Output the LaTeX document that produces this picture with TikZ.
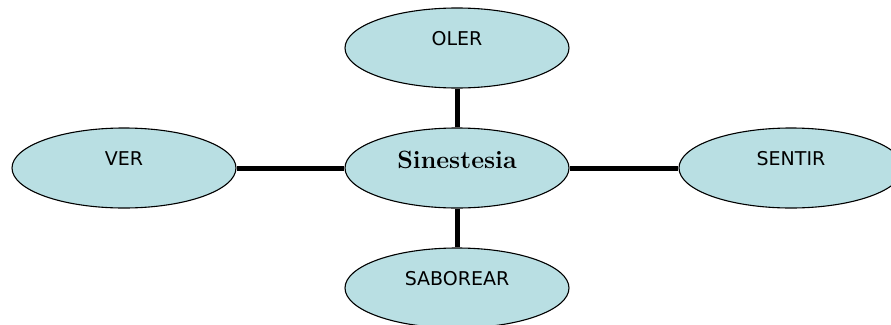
\documentclass[tikz,border=0pt]{standalone}
\usepackage{fontspec}
\usepackage{tikz}
\usetikzlibrary{shapes.geometric}
\newfontfamily\sensefont{DejaVu Sans}
\definecolor{sense_fill}{RGB}{185,223,227}
\tikzstyle{sense}=[ellipse, draw=black, line width=1.1pt, fill=sense_fill,
    minimum width=224pt, minimum height=80pt, inner sep=0pt,
    text height=13pt, text depth=19pt]
\tikzstyle{sense_text}=[font=\sensefont\fontsize{19}{19}\selectfont]
\tikzstyle{link}=[line width=5pt]

\begin{document}
\begin{tikzpicture}[x=1pt, y=1pt]
\useasboundingbox (0,0) rectangle (891,-324);
\node[sense, font=\bfseries\fontsize{25}{25}\selectfont, text height=17pt, text depth=17pt] (sin) at (457,-168){Sinestesia};
\node[sense, sense_text] (oler) at (457,-48){OLER};
\node[sense, sense_text] (saborear) at (457,-288){SABOREAR};
\node[sense, sense_text] (ver) at (124,-168){VER};
\node[sense, sense_text] (sentir) at (791,-168){SENTIR};
\draw[link](sin) -- (oler);
\draw[link](sin) -- (saborear);
\draw[link](sin) -- (ver);
\draw[link](sin) -- (sentir);
\end{tikzpicture}
\end{document}
